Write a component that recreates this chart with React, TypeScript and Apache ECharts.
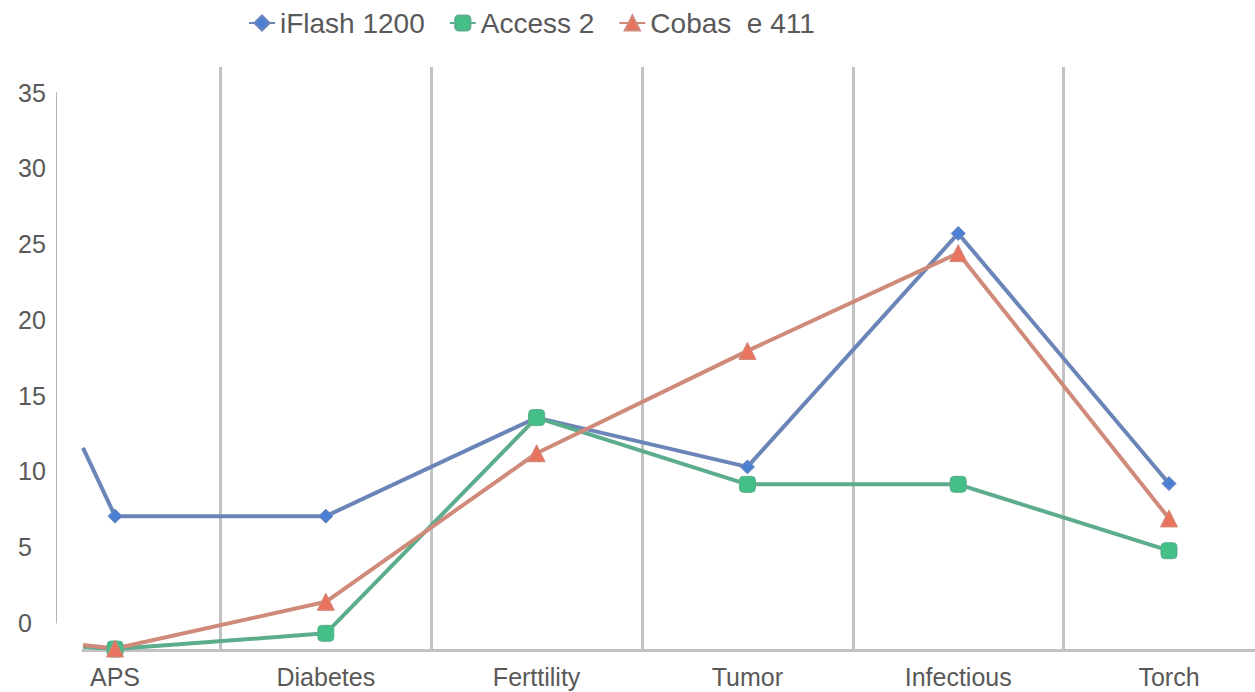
import React, { useEffect, useRef } from 'react';
import * as echarts from 'echarts';

// ---- data ----
const categories = ['APS', 'Diabetes', 'Ferttility', 'Tumor', 'Infectious', 'Torch'];
const seriesNames = ['iFlash 1200', 'Access 2', 'Cobas  e 411'];
const iflash = [7.05, 7.05, 13.55, 10.3, 25.7, 9.2];
const access2 = [-1.72, -0.68, 13.55, 9.15, 9.15, 4.77];
const cobas = [-1.68, 1.4, 11.2, 17.95, 24.4, 6.9];
// values at which each line enters the plot at its left edge (previous point is out of view)
const entryValues = [11.55, -1.56, -1.45];
const yTickMin = 0;
const yTickMax = 35;
const yTickStep = 5;

const lineColors = ['#6b85b8', '#5cad8c', '#cf8a7a'];
const markColors = ['#4c80d2', '#45bf88', '#e8735f'];
const symbols = ['diamond', 'roundRect', 'triangle'];
const symbolSizes = [14, 16, 17];

// x position of categories inside the value axis: category i sits at i + 0.5,
// boundaries sit on integers
const U_MIN = 0.348;
const U_MAX = 5.908;

export default function App() {
  const ref = useRef<HTMLDivElement>(null);

  useEffect(() => {
    if (!ref.current) return;
    const chart = echarts.init(ref.current, undefined, { renderer: 'svg' });
    const all = [iflash, access2, cobas];
    const series = all.map((vals, s) => ({
      name: seriesNames[s],
      type: 'line',
      xAxisIndex: 1,
      yAxisIndex: 1,
      symbol: symbols[s],
      symbolSize: symbolSizes[s],
      showSymbol: true,
      clip: true,
      lineStyle: { color: lineColors[s], width: 4 },
      itemStyle: { color: markColors[s], borderColor: lineColors[s], borderWidth: 1 },
      data: [
        { value: [U_MIN, entryValues[s]], symbol: 'none' },
        ...vals.map((v, i) => [i + 0.5, v]),
      ],
    }));

    chart.setOption({
      animation: false,
      backgroundColor: '#ffffff',
      textStyle: { fontFamily: 'Liberation Sans, Arial, sans-serif' },
      legend: {
        left: 243,
        top: 4,
        itemWidth: 26,
        itemHeight: 19,
        itemGap: 24,
        data: seriesNames,
        textStyle: { fontSize: 28, color: '#595959', fontFamily: 'Liberation Sans, Arial, sans-serif' },
      },
      grid: [
        { left: 56, top: 92.5, width: 10, height: 530.5, outerBoundsMode: 'none', containLabel: false },
        { left: 83, right: 0, top: 67, bottom: 42, outerBoundsMode: 'none', containLabel: false },
      ],
      xAxis: [
        { gridIndex: 0, type: 'value', show: false },
        {
          gridIndex: 1,
          type: 'value',
          min: U_MIN,
          max: U_MAX,
          minInterval: 1,
          maxInterval: 1,
          axisLine: { show: true, onZero: false, lineStyle: { color: '#c2c2c2', width: 3 } },
          axisTick: { show: false },
          splitLine: { show: true, showMinLine: false, showMaxLine: false, lineStyle: { color: '#c2c2c2', width: 3 } },
          axisLabel: {
            customValues: categories.map((_, i) => i + 0.5),
            formatter: (v: number) => categories[Math.round(v - 0.5)] ?? '',
            fontSize: 25,
            color: '#595959',
            margin: 14,
            fontFamily: 'Liberation Sans, Arial, sans-serif',
          },
        },
      ],
      yAxis: [
        {
          gridIndex: 0,
          type: 'value',
          min: yTickMin,
          max: yTickMax,
          interval: yTickStep,
          axisLine: { show: true, lineStyle: { color: '#b5b5b5', width: 1 } },
          axisTick: { show: false },
          splitLine: { show: false },
          axisLabel: {
            align: 'left',
            margin: 38,
            fontSize: 25,
            color: '#595959',
            fontFamily: 'Liberation Sans, Arial, sans-serif',
          },
        },
        {
          gridIndex: 1,
          type: 'value',
          min: -1.78,
          max: 36.68,
          show: false,
          splitLine: { show: false },
        },
      ],
      series,
    });
    return () => chart.dispose();
  }, []);

  return (
    <div
      ref={ref}
      style={{ position: 'fixed', left: 0, top: 0, width: 1255, height: 692, background: '#fff' }}
    />
  );
}
